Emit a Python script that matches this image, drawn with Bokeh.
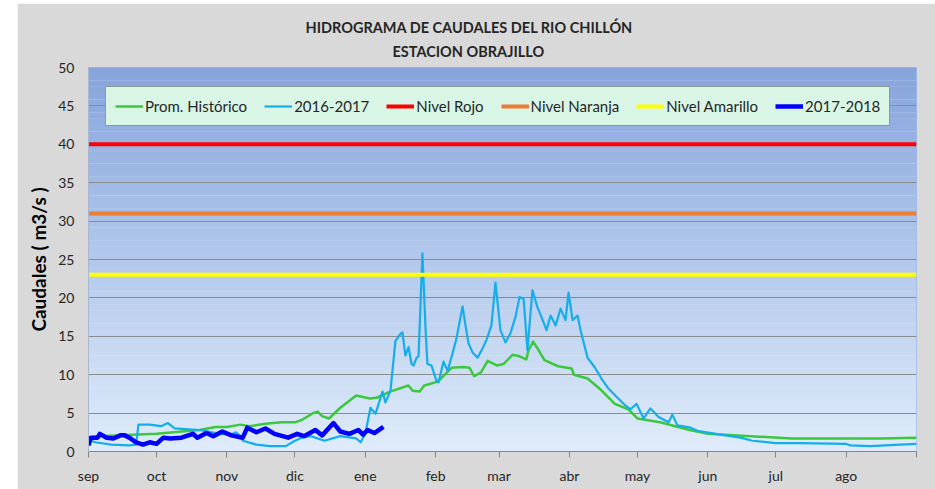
from bokeh.plotting import figure
from bokeh.models import Range1d, FixedTicker, Legend, LegendItem, Title
from bokeh.embed import file_html
from bokeh.resources import INLINE

# ---- data (x = day counted from 1 September) ----
month_starts = [0, 30, 61, 91, 122, 153, 181, 212, 242, 273, 303, 334]
month_labels = ["sep", "oct", "nov", "dic", "ene", "feb", "mar", "abr", "may", "jun", "jul", "ago"]
y_ticks = [0, 5, 10, 15, 20, 25, 30, 35, 40, 45, 50]

hist_day = [0, 5, 14, 22, 30, 41, 49, 56, 61, 67, 71, 78, 85, 91, 94, 99, 101, 103, 106, 111,
            118, 124, 127, 133, 141, 143, 146, 148, 154, 160, 165, 168, 170, 173, 176, 180, 183, 187, 190, 193,
            194, 196, 198, 201, 207, 213, 214, 220, 226, 232, 238, 242, 252, 265, 273, 292, 310, 327, 349, 365]
hist_val = [1.8, 2.0, 2.1, 2.2, 2.3, 2.6, 2.8, 3.2, 3.2, 3.5, 3.3, 3.6, 3.8, 3.8, 4.1, 5.0, 5.2, 4.6, 4.3, 5.7,
            7.3, 6.9, 7.0, 7.8, 8.6, 7.9, 7.8, 8.6, 9.1, 10.9, 11.0, 10.9, 9.8, 10.3, 11.8, 11.2, 11.4, 12.6, 12.4, 12.0,
            13.2, 14.3, 13.4, 11.9, 11.1, 10.8, 10.0, 9.5, 8.0, 6.2, 5.5, 4.3, 3.8, 2.8, 2.3, 2.0, 1.7, 1.7, 1.7, 1.8]

y1617_day = [0, 3, 10, 18, 21, 22, 27, 32, 35, 38, 49, 58, 63, 65, 67, 68, 74, 80, 87, 91,
             94, 98, 104, 111, 118, 120, 122, 124.3, 126.5, 129.6, 130.9, 133.1, 135.3, 137.5, 138.4, 139.7, 141.1, 142.4, 143.3, 144.6,
             145.5, 147.2, 148.6, 149.4, 151.2, 153.4, 154.3, 156.5, 158.3, 160.5, 162.2, 164.9, 166.2, 167.5, 169.3, 171.5, 173.7, 175.4, 177.6, 179.4,
             181.6, 183.8, 186.0, 188.2, 190.0, 191.8, 193.5, 195.7, 197.9, 199.7, 201.9, 203.7, 205.9, 208.1, 210.3, 211.6, 213.4, 215.6, 216.9, 220.0,
             223.1, 226.1, 229.2, 233.2, 236.7, 238.9, 241.6, 244.7, 247.7, 251.3, 255.7, 257.4, 259.6, 265.4, 268.5, 278.6, 287.4, 292.7, 302.8, 313.9,
             333.7, 335.9, 344.7, 357.9, 365]
y1617_val = [1.5, 1.2, 0.9, 0.8, 0.9, 3.5, 3.5, 3.3, 3.7, 3.0, 2.8, 2.3, 2.2, 2.5, 2.0, 1.4, 0.9, 0.7, 0.7, 1.4,
             1.8, 2.0, 1.4, 2.0, 1.7, 1.2, 2.3, 5.7, 4.9, 7.8, 6.4, 7.9, 14.4, 15.3, 15.5, 12.5, 13.6, 11.4, 11.2, 12.2,
             12.4, 25.8, 15.8, 11.4, 11.2, 9.2, 9.0, 11.7, 10.5, 12.8, 14.7, 18.9, 16.4, 14.1, 12.9, 12.2, 13.4, 14.5, 16.4, 22.0,
             15.8, 14.2, 15.4, 17.5, 20.1, 19.9, 13.2, 21.0, 18.8, 17.5, 15.8, 17.7, 16.4, 18.6, 17.1, 20.7, 17.1, 17.7, 15.8, 12.2,
             11.0, 9.5, 8.2, 7.0, 6.0, 5.5, 6.2, 4.3, 5.6, 4.5, 3.8, 4.8, 3.4, 3.1, 2.7, 2.2, 1.8, 1.4, 1.1, 1.1,
             1.0, 0.8, 0.7, 0.9, 1.0]

y1718_day = [0, 1, 4, 5, 8, 11, 14, 16, 18, 21, 24, 27, 30, 33, 36, 41, 46, 48, 52, 55,
             59, 63, 68, 70, 74, 78, 82, 88, 92, 95, 100, 103, 108, 111, 115, 119, 121, 123, 126, 130]
y1718_val = [0.8, 1.8, 1.8, 2.3, 1.8, 1.7, 2.1, 2.1, 1.8, 1.2, 0.9, 1.2, 1.0, 1.8, 1.7, 1.8, 2.3, 1.8, 2.4, 2.0,
             2.6, 2.1, 1.8, 3.1, 2.5, 3.0, 2.3, 1.8, 2.3, 2.0, 2.8, 2.1, 3.7, 2.6, 2.3, 2.8, 2.2, 2.8, 2.4, 3.2]

level_names = ["Nivel Rojo", "Nivel Naranja", "Nivel Amarillo"]
level_values = [40, 31, 23]
level_colors = ["#FF0000", "#ED7D31", "#FFFF00"]

FONT = "Lato"

p = figure(width=918, height=486, x_range=Range1d(0, 365), y_range=Range1d(0, 50),
           output_backend="svg", toolbar_location=None,
           min_border_left=71, min_border_top=64, min_border_right=19, min_border_bottom=38,
           border_fill_color="#D9D9D9", background_fill_color="#DFECFA")
p.margin = (3, 0, 0, 17)
p.outline_line_color = "#9DB9E5"

# background gradient (decorative bands)
nb = 60
top_c = (0x86, 0xA4, 0xDC)
bot_c = (0xDF, 0xEC, 0xFA)
bt, bb, bcol = [], [], []
for i in range(nb):
    f = (i + 0.5) / nb
    c = tuple(int(round(bot_c[k] + (top_c[k] - bot_c[k]) * f)) for k in range(3))
    bb.append(50 * i / nb)
    bt.append(50 * (i + 1) / nb + 0.01)
    bcol.append("#%02X%02X%02X" % c)
p.quad(left=0, right=365, bottom=bb, top=bt, fill_color=bcol, line_color=None, level="image")

# grid
p.xgrid.visible = False
p.ygrid.ticker = FixedTicker(ticks=y_ticks)
p.ygrid.grid_line_color = "#8C8C8C"
p.ygrid.grid_line_width = 1

# axes
p.xaxis.ticker = FixedTicker(ticks=month_starts + [365])
p.xaxis.major_label_overrides = {m: l for m, l in zip(month_starts, month_labels)}
p.xaxis.major_label_overrides[365] = ""
p.xaxis.minor_tick_line_color = None
p.xaxis.major_tick_in = 0
p.xaxis.major_tick_out = 6
p.xaxis.axis_line_color = "#868686"
p.xaxis.major_tick_line_color = "#868686"
p.xaxis.major_label_standoff = 9

p.yaxis.ticker = FixedTicker(ticks=y_ticks)
p.yaxis.minor_tick_line_color = None
p.yaxis.major_tick_line_color = None
p.yaxis.major_tick_in = 0
p.yaxis.major_tick_out = 0
p.yaxis.axis_line_color = "#A9B8D0"
p.yaxis.major_label_standoff = 14
p.yaxis.axis_label = "Caudales ( m3/s )"
p.yaxis.axis_label_text_font = FONT
p.yaxis.axis_label_text_font_style = "bold"
p.yaxis.axis_label_text_font_size = "19px"
p.yaxis.axis_label_text_color = "#000000"
p.yaxis.axis_label_standoff = 5

for ax in (p.xaxis, p.yaxis):
    ax.major_label_text_font = FONT
    ax.major_label_text_font_size = "14px"
    ax.major_label_text_color = "#262626"

# titles
p.add_layout(Title(text="ESTACION OBRAJILLO", align="left", text_font=FONT,
                   text_font_size="14.5px", text_font_style="bold", text_color="#262626",
                   standoff=16, offset=304), "above")
p.add_layout(Title(text="HIDROGRAMA DE CAUDALES DEL RIO  CHILLÓN", align="left", text_font=FONT,
                   text_font_size="14.5px", text_font_style="bold", text_color="#262626",
                   standoff=-6, offset=217), "above")

# series
r_hist = p.line(hist_day, hist_val, line_color="#3CC83C", line_width=2.5, line_join="round")
r_1617 = p.line(y1617_day, y1617_val, line_color="#13AEEB", line_width=2.2, line_join="round")
level_renderers = []
for v, c in zip(level_values, level_colors):
    level_renderers.append(p.line([0, 365], [v, v], line_color=c, line_width=4))
r_1718 = p.line(y1718_day, y1718_val, line_color="#0000FF", line_width=4.5, line_join="round")

items = [LegendItem(label="Prom. Histórico", renderers=[r_hist]),
         LegendItem(label="2016-2017", renderers=[r_1617])]
for n, r in zip(level_names, level_renderers):
    items.append(LegendItem(label=n, renderers=[r]))
items.append(LegendItem(label="2017-2018", renderers=[r_1718]))

legend = Legend(items=items, orientation="horizontal", location=(17, 325))
legend.background_fill_color = "#D9F5E6"
legend.background_fill_alpha = 1
legend.border_line_color = "#404040"
legend.border_line_width = 1
legend.label_text_font = FONT
legend.label_text_font_size = "15px"
legend.label_text_color = "#262626"
legend.glyph_width = 28
legend.glyph_height = 20
legend.label_height = 20
legend.label_standoff = 2
legend.spacing = 17
legend.padding = 9
legend.margin = 0
p.add_layout(legend, "center")

open("out.html", "w").write(file_html(p, INLINE))
